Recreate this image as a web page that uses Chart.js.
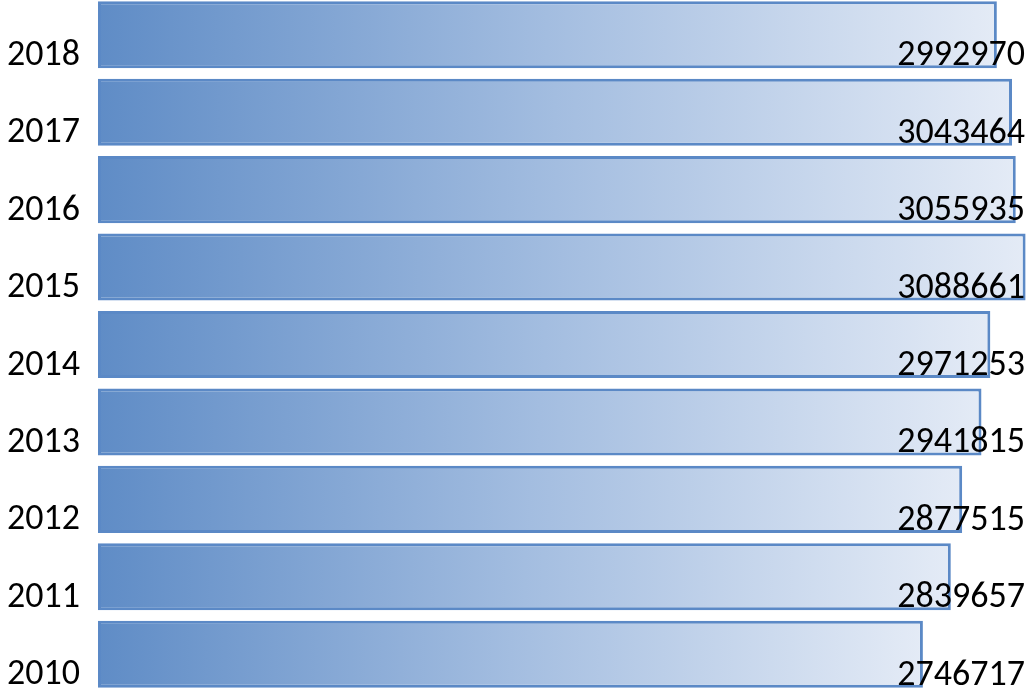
<!DOCTYPE html>
<html>
<head>
<meta charset="utf-8">
<script src="https://cdn.jsdelivr.net/npm/chart.js@4/dist/chart.umd.min.js"></script>
<style>
  html, body { margin: 0; padding: 0; background: #fff; overflow: hidden; }
  #wrap { position: absolute; left: 0; top: -4px; width: 1027px; height: 697px; }
</style>
</head>
<body>
<div id="wrap"><canvas id="chart"></canvas></div>
<script>
// categories, top to bottom
var years = ["2018", "2017", "2016", "2015", "2014", "2013", "2012", "2011", "2010"];
var values = [2992970, 3043464, 3055935, 3088661, 2971253, 2941815, 2877515, 2839657, 2746717];

var labelFont = "Carlito, 'Liberation Sans', Arial, sans-serif";

function barGradient(context) {
    var chart = context.chart;
    var area = chart.chartArea;
    if (!area) return "#6a93cb";
    var xScale = chart.scales.x;
    var x0 = xScale.getPixelForValue(0);
    var x1 = xScale.getPixelForValue(context.raw);
    var g = chart.ctx.createLinearGradient(x0, 0, x1, 0);
    g.addColorStop(0, "#5f8cc6");
    g.addColorStop(0.5, "#a3bde0");
    g.addColorStop(1, "#e4ebf6");
    return g;
}

// value labels, right aligned at the canvas edge, near the bar bottom
var valueLabels = {
    id: "valueLabels",
    afterDatasetsDraw: function (chart) {
        var ctx = chart.ctx;
        var meta = chart.getDatasetMeta(0);
        ctx.save();
        ctx.font = "36px " + labelFont;
        ctx.fillStyle = "#000";
        ctx.textAlign = "right";
        ctx.textBaseline = "alphabetic";
        meta.data.forEach(function (bar, i) {
            ctx.fillText(String(values[i]), chart.width - 2, bar.y + bar.height / 2 - 3);
        });
        ctx.restore();
    }
};

new Chart(document.getElementById("chart"), {
    type: "bar",
    data: {
        labels: years,
        datasets: [{
            data: values,
            backgroundColor: barGradient,
            borderColor: "#5b89c6",
            borderWidth: 3,
            borderSkipped: false,
            categoryPercentage: 1,
            barPercentage: 0.866
        }]
    },
    plugins: [valueLabels],
    options: {
        indexAxis: "y",
        responsive: true,
        maintainAspectRatio: false,
        animation: false,
        layout: { padding: { left: 7, right: 1, top: 0, bottom: 0 } },
        plugins: {
            legend: { display: false },
            tooltip: { enabled: false }
        },
        scales: {
            x: {
                min: 0,
                max: 3090000,
                display: false
            },
            y: {
                grid: { display: false, drawTicks: false },
                border: { display: false },
                ticks: {
                    color: "#000",
                    font: { family: labelFont, size: 36 },
                    padding: 18,
                    labelOffset: 21
                },
                afterFit: function (scale) {
                    scale.width = 91;
                    scale.paddingTop = 0;
                    scale.paddingBottom = 0;
                }
            }
        }
    }
});
</script>
</body>
</html>
